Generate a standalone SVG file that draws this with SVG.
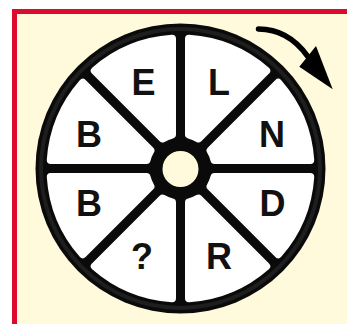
<svg xmlns="http://www.w3.org/2000/svg" width="347" height="324" viewBox="0 0 347 324">
<style>
.lbl{font-family:"Liberation Sans",Arial,sans-serif;font-weight:bold;font-size:36px;fill:#111;text-anchor:middle}
.sec{fill:#ffffff;stroke:#ffffff;stroke-width:8;stroke-linejoin:round}
</style>
<defs>
<path id="sector" d="M33.95,8.5 L129.72,8.5 A130,130 0 0 1 97.73,85.72 L30.02,17.99 A35,35 0 0 0 33.95,8.5 Z"/>
</defs>
<rect x="0" y="0" width="347" height="324" fill="#fff"/>
<rect id="frame" x="14.5" y="11.5" width="400" height="400" fill="#FFFADC" stroke="#DC0A2D" stroke-width="5"/>
<g id="wheel">
<circle cx="180.5" cy="168.5" r="145" fill="#0a0a0a"/>
<circle cx="180.5" cy="168.5" r="139.5" fill="none" stroke="#1e1e1e" stroke-width="4"/>
<g transform="translate(180.5,168.5)">
<use href="#sector" class="sec" transform="rotate(0)"/>
<use href="#sector" class="sec" transform="rotate(45)"/>
<use href="#sector" class="sec" transform="rotate(90)"/>
<use href="#sector" class="sec" transform="rotate(135)"/>
<use href="#sector" class="sec" transform="rotate(180)"/>
<use href="#sector" class="sec" transform="rotate(225)"/>
<use href="#sector" class="sec" transform="rotate(270)"/>
<use href="#sector" class="sec" transform="rotate(315)"/>
</g>
<circle id="hub" cx="180.5" cy="169" r="18" fill="#FFFADC"/>
</g>
<g id="letters">
<text class="lbl" x="143.5" y="94.5">E</text>
<text class="lbl" x="219" y="94.5">L</text>
<text class="lbl" x="89" y="147">B</text>
<text class="lbl" x="272" y="147">N</text>
<text class="lbl" x="89" y="215.5">B</text>
<text class="lbl" x="272.5" y="215.5">D</text>
<text class="lbl" x="142" y="268.5">?</text>
<text class="lbl" x="219" y="268.5">R</text>
</g>
<g id="connectors">
<path d="M258.5,29 Q288,29 307.7,56.3" fill="none" stroke="#000" stroke-width="5.5" stroke-linecap="round"/>
<polygon points="299.3,66.7 316,46 332.7,89.3" fill="#000"/>
</g>
</svg>
